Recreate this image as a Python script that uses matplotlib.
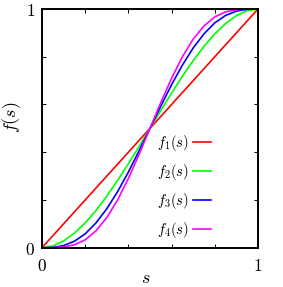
import matplotlib
matplotlib.use('Agg')
import matplotlib.pyplot as plt

# values
s = [0.0, 0.05, 0.1, 0.15, 0.2, 0.25, 0.3, 0.35, 0.4, 0.45, 0.5,
     0.55, 0.6, 0.65, 0.7, 0.75, 0.8, 0.85, 0.9, 0.95, 1.0]
f1 = list(s)
f2 = [0, 0.007, 0.028, 0.061, 0.104, 0.156, 0.216, 0.282, 0.352, 0.425, 0.5,
      0.575, 0.648, 0.718, 0.784, 0.844, 0.896, 0.939, 0.972, 0.993, 1]
f3 = [0, 0.001, 0.009, 0.027, 0.058, 0.104, 0.163, 0.235, 0.317, 0.407, 0.5,
      0.593, 0.683, 0.765, 0.837, 0.896, 0.942, 0.973, 0.991, 0.999, 1]
f4 = [0, 0.000, 0.003, 0.012, 0.033, 0.071, 0.126, 0.200, 0.290, 0.392, 0.5,
      0.608, 0.710, 0.800, 0.874, 0.929, 0.967, 0.988, 0.997, 1.000, 1]

labels = ['$f_1(s)$', '$f_2(s)$', '$f_3(s)$', '$f_4(s)$']
colors = ['#ff0000', '#00ff00', '#0000ff', '#ff00ff']
ticks = [0, 0.2, 0.4, 0.6, 0.8, 1.0]
tick_labels = ['$0$', '', '', '', '', '$1$']

plt.rcParams['mathtext.fontset'] = 'cm'

fig = plt.figure(figsize=(2.83, 2.87), dpi=100)
ax = fig.add_axes([42/283, 39.3/287, 216/283, 238.7/287])

for y, lab, c in zip([f1, f2, f3, f4], labels, colors):
    ax.plot(s, y, color=c, lw=1.2, label=lab)

ax.set_xlim(0, 1)
ax.set_ylim(0, 1)
ax.set_xticks(ticks)
ax.set_xticklabels(tick_labels, fontsize=12.5)
ax.set_yticks(ticks)
ax.set_yticklabels(tick_labels, fontsize=12.5)
ax.tick_params(direction='in', length=3.2, width=0.7, top=True, right=True)
ax.tick_params(axis='x', pad=7)
ax.tick_params(axis='y', pad=5)
for sp in ax.spines.values():
    sp.set_linewidth(1.4)

ax.set_xlabel('$s$', fontsize=13)
ax.xaxis.set_label_coords(0.479, -0.088)
ax.set_ylabel('$f(s)$', fontsize=13)
ax.yaxis.set_label_coords(-0.09, 0.545)

ax.legend(loc='lower right', bbox_to_anchor=(0.782, 0.033), frameon=False,
          markerfirst=False, fontsize=10.5, handlelength=1.25,
          handletextpad=0.25, labelspacing=0.62, borderpad=0, borderaxespad=0)

fig.savefig('out.png', dpi=100)
